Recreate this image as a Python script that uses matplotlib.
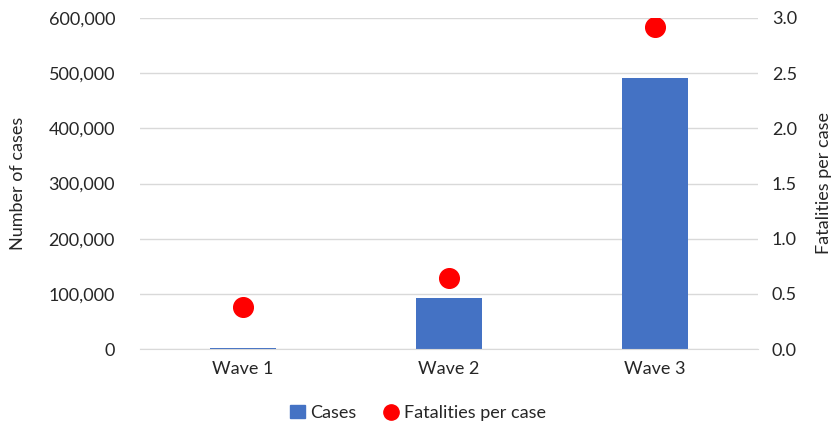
import numpy as np
import matplotlib.pyplot as plt
from matplotlib.ticker import FuncFormatter
from matplotlib.lines import Line2D
from matplotlib.patches import Patch

waves = ["Wave 1", "Wave 2", "Wave 3"]
cases = [2500, 92000, 491000]
fatalities_per_case = [0.38, 0.64, 2.92]

plt.rcParams['font.family'] = ['Lato', 'DejaVu Sans']
txt = '#262626'

fig = plt.figure(figsize=(8.36, 4.28), dpi=100)
ax = fig.add_axes([140/836, 1 - 349/428, (758-140)/836, (349-18)/428])
ax2 = ax.twinx()

x = np.arange(len(waves))
ax.bar(x, cases, width=0.32, color='#4472C4', zorder=2)
ax2.scatter(x, fatalities_per_case, s=200, color='#FF0000', zorder=3)

ax.set_ylim(0, 600000)
ax2.set_ylim(0, 3.0)
ax.set_xlim(-0.5, 2.5)
ax.set_yticks(np.arange(0, 600001, 100000))
ax2.set_yticks(np.arange(0, 3.01, 0.5))
ax.yaxis.set_major_formatter(FuncFormatter(lambda v, p: f"{int(v):,}"))
ax2.yaxis.set_major_formatter(FuncFormatter(lambda v, p: f"{v:.1f}"))
ax.set_xticks(x)
ax.set_xticklabels(waves)

ax.grid(axis='y', color='#d9d9d9', lw=1, zorder=0)
for a in (ax, ax2):
    for s in a.spines.values():
        s.set_visible(False)
    a.tick_params(length=0, labelsize=13, colors=txt)
ax.spines['bottom'].set_visible(True)
ax.spines['bottom'].set_color('#d9d9d9')
ax.tick_params(axis='y', pad=18)
ax2.tick_params(axis='y', pad=10)
ax.tick_params(axis='x', pad=9)

ax.set_ylabel("Number of cases", fontsize=13, color=txt, labelpad=16)
ax2.set_ylabel("Fatalities per case", fontsize=13, color=txt, labelpad=14)

handles = [Patch(color='#4472C4', label='Cases'),
           Line2D([], [], marker='o', ls='', color='#FF0000', markersize=11, label='Fatalities per case')]
fig.legend(handles=handles, loc='center', bbox_to_anchor=(0.5, 1 - 413/428), ncol=2,
           frameon=False, fontsize=13, handlelength=0.8, handletextpad=0.3, columnspacing=1.5,
           labelcolor=txt)

fig.savefig("out.png", dpi=100)
